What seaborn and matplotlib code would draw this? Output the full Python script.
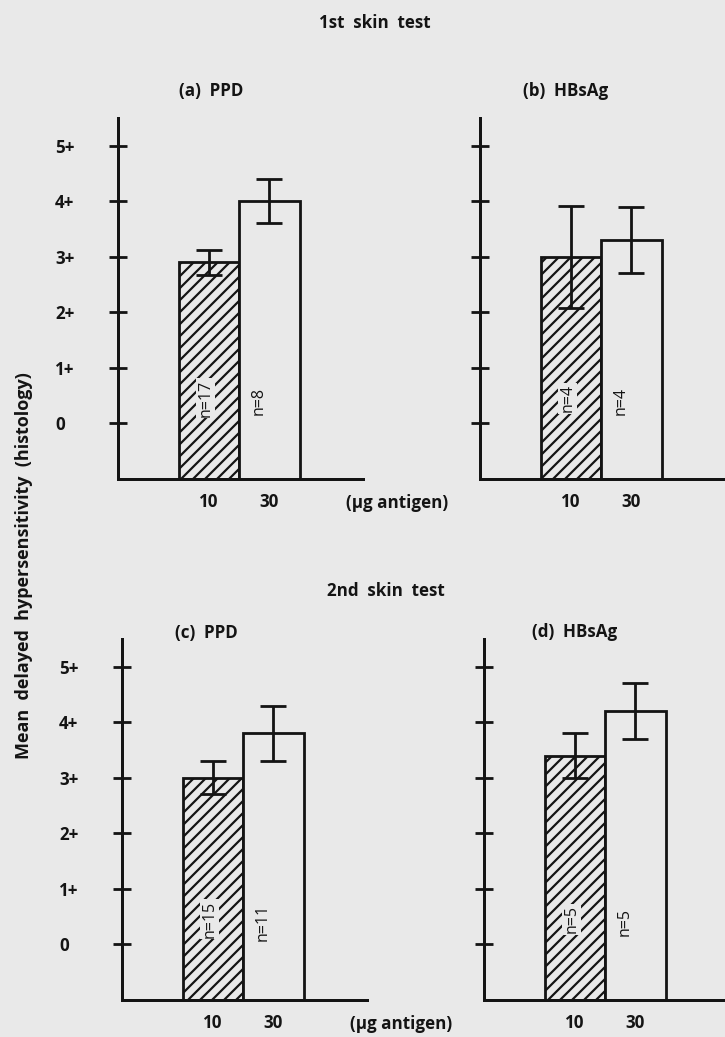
import numpy as np
import pandas as pd
import matplotlib
matplotlib.use("Agg")
import matplotlib.pyplot as plt
import seaborn as sns

# antigen doses (ug) on the x axis
DOSES = ["10", "30"]

# mean delayed hypersensitivity score, standard error and group size
# per panel, in dose order (10, 30)
MEAN_A = [2.9, 4.0]
SE_A = [0.23, 0.40]
N_A = [17, 8]

MEAN_B = [3.0, 3.3]
SE_B = [0.92, 0.60]
N_B = [4, 4]

MEAN_C = [3.0, 3.8]
SE_C = [0.30, 0.50]
N_C = [15, 11]

MEAN_D = [3.4, 4.2]
SE_D = [0.40, 0.50]
N_D = [5, 5]

PANEL_TITLES = ["(a)  PPD", "(b)  HBsAg", "(c)  PPD", "(d)  HBsAg"]
ROW_TITLES = ["1st  skin  test", "2nd  skin  test"]
SCORE_TICKS = [0, 1, 2, 3, 4, 5]
SCORE_LABELS = ["0", "1+", "2+", "3+", "4+", "5+"]

# the "0" score sits one step above the x axis line
BASE = -1

BG = "#e9e9e9"
INK = "#141414"
FONT = "Open Sans"

W_PX, H_PX = 725, 1037
DPI = 72  # 1 pt == 1 px

sns.set_theme(style="white")
plt.rcParams["font.family"] = [FONT, "DejaVu Sans"]
plt.rcParams["hatch.linewidth"] = 2.2
plt.rcParams["hatch.color"] = INK

fig = plt.figure(figsize=(W_PX / DPI, H_PX / DPI), dpi=DPI, facecolor=BG)

PX_PER_BAR = 60.5
PX_PER_SCORE = 55.5
FS = 17


def add_panel(left, top, width, mean, se, n, title, title_xy, first_col):
    height = (5.5 - BASE) * PX_PER_SCORE
    ax = fig.add_axes([left / W_PX, 1 - (top + height) / H_PX,
                       width / W_PX, height / H_PX])
    ax.set_facecolor(BG)

    df = pd.DataFrame({"dose": DOSES,
                       "score": np.array(mean) - BASE,
                       "se": se})
    sns.barplot(data=df, x="dose", y="score", order=DOSES, width=1.0,
                color=BG, saturation=1, edgecolor=INK, linewidth=2.8,
                errorbar=None, ax=ax)
    ax.patches[0].set_hatch("//")
    for p in ax.patches:
        p.set_facecolor(BG)
        p.set_zorder(2)

    ax.errorbar(x=np.arange(len(DOSES)), y=df["score"], yerr=df["se"],
                fmt="none", ecolor=INK, elinewidth=2.8, capsize=13,
                capthick=2.8, zorder=3)

    # group sizes written vertically inside the bars
    ax.text(-0.05, 0.45 - BASE, f"n={n[0]}", rotation=90, ha="center",
            va="center", fontsize=16, color=INK, zorder=4,
            bbox=dict(facecolor=BG, edgecolor="none", pad=1.5))
    ax.text(0.82, 0.4 - BASE, f"n={n[1]}", rotation=90, ha="center",
            va="center", fontsize=16, color=INK, zorder=4)

    ax.set_xlim(-1.5, -1.5 + width / PX_PER_BAR)
    ax.set_ylim(0, 5.5 - BASE)
    ax.set_xlabel("")
    ax.set_ylabel("")

    for side in ["top", "right"]:
        ax.spines[side].set_visible(False)
    for side in ["left", "bottom"]:
        ax.spines[side].set_linewidth(3)
        ax.spines[side].set_color(INK)

    ax.set_yticks(np.array(SCORE_TICKS) - BASE)
    if first_col:
        ax.set_yticklabels(SCORE_LABELS, fontsize=FS, fontweight="bold",
                           color=INK)
        for lab in ax.get_yticklabels():
            lab.set_horizontalalignment("left")
    else:
        ax.set_yticklabels([])
    ax.tick_params(axis="y", direction="inout", length=18, width=2.8,
                   color=INK, pad=54, left=True)
    ax.tick_params(axis="x", length=0, pad=14)
    ax.set_xticks(range(len(DOSES)))
    ax.set_xticklabels(DOSES, fontsize=FS, fontweight="bold", color=INK)

    if first_col:
        ax.text(3.12, -0.066, "(\u00b5g antigen)",
                transform=ax.get_xaxis_transform(),
                ha="center", va="center", fontsize=FS, fontweight="bold",
                color=INK)

    fig.text(title_xy[0] / W_PX, 1 - title_xy[1] / H_PX, title,
             ha="center", va="center", fontsize=FS, fontweight="bold",
             color=INK)
    return ax


add_panel(118, 118, 245, MEAN_A, SE_A, N_A, PANEL_TITLES[0], (211, 91), True)
add_panel(480, 118, 250, MEAN_B, SE_B, N_B, PANEL_TITLES[1], (566, 91), False)
add_panel(122, 639, 245, MEAN_C, SE_C, N_C, PANEL_TITLES[2], (206, 633), True)
add_panel(484, 639, 250, MEAN_D, SE_D, N_D, PANEL_TITLES[3], (575, 632), False)

fig.text(375 / W_PX, 1 - 23 / H_PX, ROW_TITLES[0], ha="center", va="center",
         fontsize=FS, fontweight="bold", color=INK)
fig.text(386 / W_PX, 1 - 591 / H_PX, ROW_TITLES[1], ha="center", va="center",
         fontsize=FS, fontweight="bold", color=INK)

fig.text(24 / W_PX, 1 - 566 / H_PX,
         "Mean  delayed  hypersensitivity  (histology)",
         rotation=90, ha="center", va="center", fontsize=18,
         fontweight="bold", color=INK)

fig.savefig("out.png", dpi=DPI, facecolor=BG)
